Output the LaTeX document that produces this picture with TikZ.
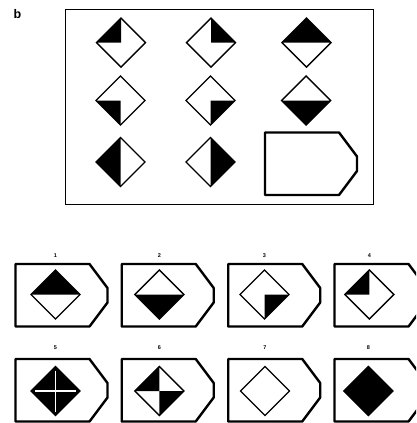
\documentclass[tikz,border=0pt]{standalone}
\usepackage{fontspec}
\setsansfont{Liberation Sans}
\begin{document}
\begin{tikzpicture}[x=1pt,y=-1pt,
  dline/.style={line width=1.4pt,line join=miter},
  pline/.style={line width=2.4pt,line join=round},
  frameline/.style={line width=0.9pt},
  optlabel/.style={font=\sffamily\bfseries\fontsize{5.5}{6}\selectfont,inner sep=0pt},
  tag/.style={font=\sffamily\bfseries\fontsize{12.5}{14}\selectfont,inner sep=0pt}]
\useasboundingbox (0,0) rectangle (416,423);
\clip (0,0) rectangle (416,423);
\def\dsz{24.5}
% quadrant fills (y grows downward)
\newcommand\fTL{\fill (-\dsz,0) -- (0,-\dsz) -- (0,0) -- cycle;}
\newcommand\fTR{\fill (\dsz,0) -- (0,-\dsz) -- (0,0) -- cycle;}
\newcommand\fBL{\fill (-\dsz,0) -- (0,\dsz) -- (0,0) -- cycle;}
\newcommand\fBR{\fill (\dsz,0) -- (0,\dsz) -- (0,0) -- cycle;}
\newcommand\fTop{\fill (-\dsz,0) -- (0,-\dsz) -- (\dsz,0) -- cycle;}
\newcommand\fBot{\fill (-\dsz,0) -- (0,\dsz) -- (\dsz,0) -- cycle;}
\newcommand\fLeft{\fill (0,-\dsz) -- (-\dsz,0) -- (0,\dsz) -- cycle;}
\newcommand\fRight{\fill (0,-\dsz) -- (\dsz,0) -- (0,\dsz) -- cycle;}
\newcommand\fAll{\fill (-\dsz,0) -- (0,-\dsz) -- (\dsz,0) -- (0,\dsz) -- cycle;}
\newcommand\fCross{\fAll\draw[white,line width=1.5pt] (-\dsz+4,0) -- (\dsz-4,0) (0,-\dsz+4) -- (0,\dsz-4);}
\newcommand\fNone{}
\newcommand\diam[3]{\begin{scope}[shift={(#1,#2)}]#3
  \draw[dline] (-\dsz,0) -- (0,-\dsz) -- (\dsz,0) -- (0,\dsz) -- cycle;\end{scope}}
\newcommand\pent[2]{\begin{scope}[shift={(#1,#2)}]
  \draw[pline] (0,0) -- (74,0) -- (92,24) -- (92,38.5) -- (74,62.5) -- (0,62.5) -- cycle;\end{scope}}
% label b
\node[tag] (b) at (17.5,14.5) {b};
% matrix frame
\draw[frameline] (65.7,9) rectangle (373,204);
% matrix
\diam{121}{42.7}{\fTL}
\diam{211}{42.7}{\fTR}
\diam{306.5}{42.7}{\fTop}
\diam{120.5}{100.5}{\fBL}
\diam{210.5}{100.5}{\fBR}
\diam{306.2}{100.5}{\fBot}
\diam{120.5}{162}{\fLeft}
\diam{210.5}{162}{\fRight}
\pent{265}{132.5}
% options row 1
\pent{15.5}{264}
\pent{121.7}{264}
\pent{228.2}{264}
\pent{334.5}{264}
\diam{55.5}{294.5}{\fTop}
\diam{159.3}{294.5}{\fBot}
\diam{264.5}{294.5}{\fBR}
\diam{369.3}{294.5}{\fTL}
\node[optlabel] (l1) at (55.5,255.5) {1};
\node[optlabel] (l2) at (159.3,255.5) {2};
\node[optlabel] (l3) at (264.5,255.5) {3};
\node[optlabel] (l4) at (369.3,255.5) {4};
% options row 2
\pent{15.5}{359}
\pent{121.7}{359}
\pent{228.2}{359}
\pent{334.5}{359}
\diam{55.5}{391}{\fCross}
\diam{159.3}{391}{\fTL\fBR}
\diam{265}{391}{\fNone}
\diam{368.3}{391}{\fAll}
\node[optlabel] (l5) at (55.5,347.5) {5};
\node[optlabel] (l6) at (159.3,347.5) {6};
\node[optlabel] (l7) at (265,347.5) {7};
\node[optlabel] (l8) at (368.3,347.5) {8};
\end{tikzpicture}
\end{document}
